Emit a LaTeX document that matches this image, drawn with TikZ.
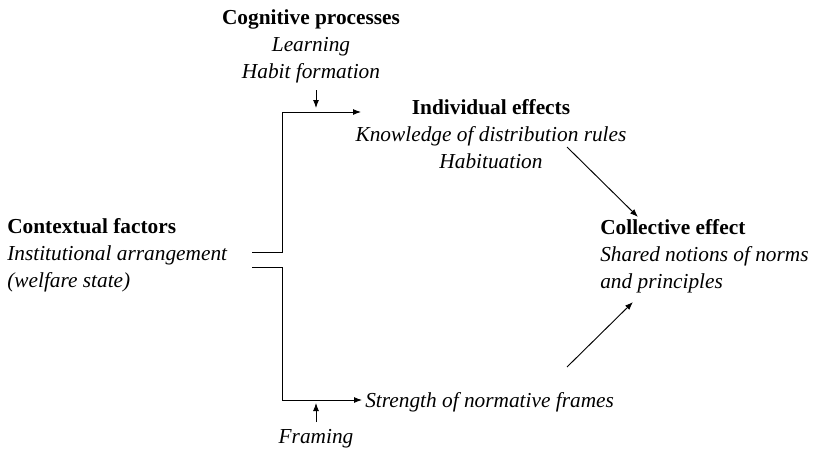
\documentclass[tikz,border=0pt]{standalone}
\usepackage{fontspec}
\setmainfont{Liberation Serif}
\usetikzlibrary{arrows.meta}
\begin{document}
\begin{tikzpicture}[x=0.75pt,y=-0.75pt,
  lbl/.style={inner sep=0pt, font=\fontsize{16}{20.2}\selectfont},
  conn/.style={line width=0.7pt},
  arr/.style={conn,-{Latex[length=6pt,width=4.5pt]}}]
\useasboundingbox (0,0) rectangle (817,450);
\node[lbl, align=center, anchor=base] (cog) at (311,78) {\textbf{Cognitive processes}\\ \textit{Learning}\\ \textit{Habit formation}};
\node[lbl, align=left, anchor=base west] (ctx) at (7,287) {\textbf{Contextual factors}\\ \textit{Institutional arrangement}\\ \textit{(welfare state)}};
\node[lbl, align=center, anchor=base] (ind) at (491,168) {\textbf{Individual effects}\\ \textit{Knowledge of distribution rules}\\ \textit{Habituation}};
\node[lbl, align=left, anchor=base west] (col) at (600,288) {\textbf{Collective effect}\\ \textit{Shared notions of norms}\\ \textit{and principles}};
\node[lbl, anchor=base west] (str) at (365,407) {\textit{Strength of normative frames}};
\node[lbl, anchor=base] (frm) at (316,443) {\textit{Framing}};
% coordinates
\coordinate (u0) at (252,252);
\coordinate (u1) at (282,252);
\coordinate (u2) at (282,112);
\coordinate (u3) at (361,112);
\coordinate (l0) at (252,267);
\coordinate (l1) at (282,267);
\coordinate (l2) at (282,400);
\coordinate (l3) at (362,400);
\coordinate (ca) at (316,90);
\coordinate (cb) at (316,108);
\coordinate (fa) at (316,422);
\coordinate (fb) at (316,403);
\coordinate (d1a) at (567,147);
\coordinate (d1b) at (638,217);
\coordinate (d2a) at (567,367);
\coordinate (d2b) at (633,302);
\draw[arr] (u0) -- (u1) -- (u2) -- (u3);
\draw[arr] (l0) -- (l1) -- (l2) -- (l3);
\draw[arr] (ca) -- (cb);
\draw[arr] (fa) -- (fb);
\draw[arr] (d1a) -- (d1b);
\draw[arr] (d2a) -- (d2b);
\end{tikzpicture}
\end{document}
